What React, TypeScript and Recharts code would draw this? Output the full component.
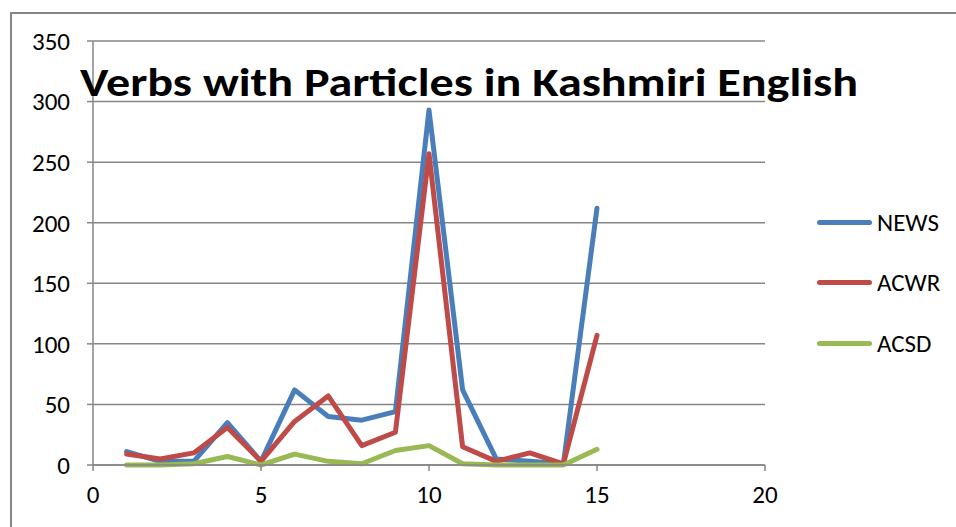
import { ReactElement } from "react";
import { CartesianGrid, Line, LineChart, XAxis, YAxis } from "recharts";

const xValues = [1, 2, 3, 4, 5, 6, 7, 8, 9, 10, 11, 12, 13, 14, 15];
const news = [11, 3, 3, 35, 3, 62, 40, 37, 44, 293, 62, 5, 3, 1, 212];
const acwr = [9, 5, 10, 31, 3, 36, 57, 16, 27, 257, 15, 3, 10, 1, 107];
const acsd = [0, 0, 1, 7, 0, 9, 3, 1, 12, 16, 1, 0, 0, 0, 13];
const xTicks = [0, 5, 10, 15, 20];
const yTicks = [0, 50, 100, 150, 200, 250, 300, 350];

const seriesList = [
  { key: "NEWS", values: news, color: "#4A7EBB" },
  { key: "ACWR", values: acwr, color: "#BE4B48" },
  { key: "ACSD", values: acsd, color: "#98B954" },
];

const data = xValues.map((x, i) => ({
  x,
  NEWS: news[i],
  ACWR: acwr[i],
  ACSD: acsd[i],
}));

const FONT = "Carlito, Lato, 'Open Sans', sans-serif";
const GRAY = "#868686";

function LegendBox(): ReactElement {
  return (
    <div style={{ position: "absolute", left: 817, top: 192, fontFamily: FONT, fontSize: 25, color: "#000" }}>
      {seriesList.map((s) => (
        <div key={s.key} style={{ display: "flex", alignItems: "center", height: 60.5 }}>
          <div style={{ width: 55, height: 5, borderRadius: 3, background: s.color, marginRight: 5 }} />
          <span>{s.key}</span>
        </div>
      ))}
    </div>
  );
}

export default function App(): ReactElement {
  return (
    <div style={{ position: "absolute", left: 0, top: 0, width: 956, height: 527, overflow: "hidden", background: "#fff" }}>
      <div
        style={{
          position: "absolute",
          left: 10,
          top: 12,
          width: 1100,
          height: 700,
          border: `2px solid ${GRAY}`,
        }}
      />
      <div style={{ position: "absolute", left: 0, top: 0 }}>
        <LineChart width={956} height={527} data={data} margin={{ top: 41, right: 191, left: 0, bottom: 0 }}>
          <CartesianGrid vertical={false} stroke={GRAY} strokeWidth={1.5} />
          <XAxis
            dataKey="x"
            type="number"
            domain={[0, 20]}
            ticks={xTicks}
            height={62}
            stroke={GRAY}
            strokeWidth={1.5}
            tickSize={6}
            tickMargin={14}
            tick={{ fill: "#000", fontSize: 25, fontFamily: FONT }}
          />
          <YAxis
            type="number"
            domain={[0, 350]}
            ticks={yTicks}
            width={93}
            stroke={GRAY}
            strokeWidth={1.5}
            tickSize={6}
            tickMargin={17}
            tick={{ fill: "#000", fontSize: 25, fontFamily: FONT }}
          />
          {seriesList.map((s) => (
            <Line
              key={s.key}
              dataKey={s.key}
              type="linear"
              stroke={s.color}
              strokeWidth={5}
              strokeLinejoin="round"
              strokeLinecap="round"
              dot={false}
              activeDot={false}
              isAnimationActive={false}
            />
          ))}
        </LineChart>
      </div>
      <LegendBox />
      <svg style={{ position: "absolute", left: 0, top: 0 }} width={956} height={120}>
        <text
          x={80}
          y={96}
          textLength={778}
          lengthAdjust="spacingAndGlyphs"
          style={{ fontFamily: FONT, fontWeight: 700, fontSize: 41 }}
          fill="#000"
        >
          Verbs with Particles in Kashmiri English
        </text>
      </svg>
    </div>
  );
}
